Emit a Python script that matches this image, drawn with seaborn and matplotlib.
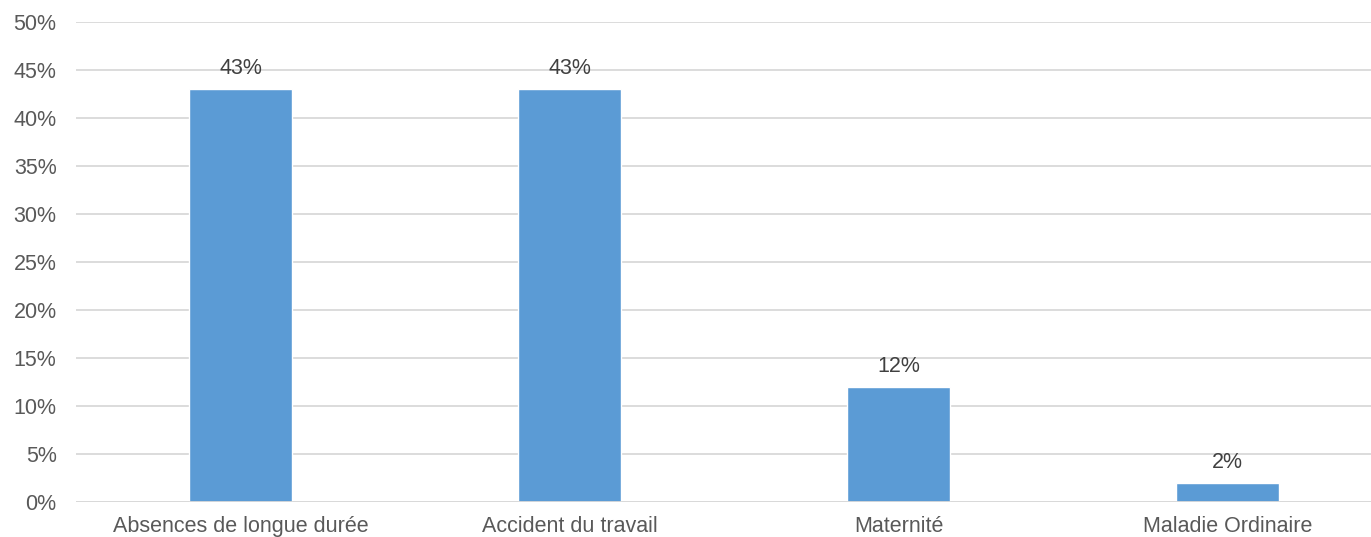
import matplotlib
matplotlib.use("Agg")
import matplotlib.pyplot as plt
import seaborn as sns
import pandas as pd

# data
categories = ["Absences de longue durée", "Accident du travail", "Maternité", "Maladie Ordinaire"]
values = [43, 43, 12, 2]
labels = ["43%", "43%", "12%", "2%"]
yticks = [0, 5, 10, 15, 20, 25, 30, 35, 40, 45, 50]

df = pd.DataFrame({"cat": categories, "val": values})

sns.set_theme(style="white")
plt.rcParams["font.family"] = ["Liberation Sans", "DejaVu Sans"]

W, H = 1371, 537
fig = plt.figure(figsize=(W / 100, H / 100), dpi=100)
# axes runs past the right edge, as in the reference
ax = fig.add_axes([76 / W, 35 / H, 1316 / W, 480 / H])

sns.barplot(data=df, x="cat", y="val", color="#5B9BD5", saturation=1,
            width=0.313, ax=ax, zorder=3)

ax.set_xlim(-0.5, 3.5)
ax.set_ylim(0, 50)
ax.set_yticks(yticks)
ax.set_yticklabels([f"{t}%" for t in yticks])
ax.yaxis.grid(True, color="#D9D9D9", linewidth=1.3, zorder=0)
ax.set_axisbelow(True)
for s in ax.spines.values():
    s.set_visible(False)
ax.axhline(0, color="#D9D9D9", linewidth=1.3, zorder=4)

ax.tick_params(axis="both", length=0, labelsize=15.5, colors="#595959")
ax.tick_params(axis="y", pad=14)
ax.tick_params(axis="x", pad=10)
ax.set_xlabel("")
ax.set_ylabel("")

for i, (v, lab) in enumerate(zip(values, labels)):
    ax.annotate(lab, (i, v), xytext=(0, 7), textcoords="offset points",
                ha="center", va="bottom", fontsize=15.5, color="#404040")

fig.savefig("out.png", dpi=100)
